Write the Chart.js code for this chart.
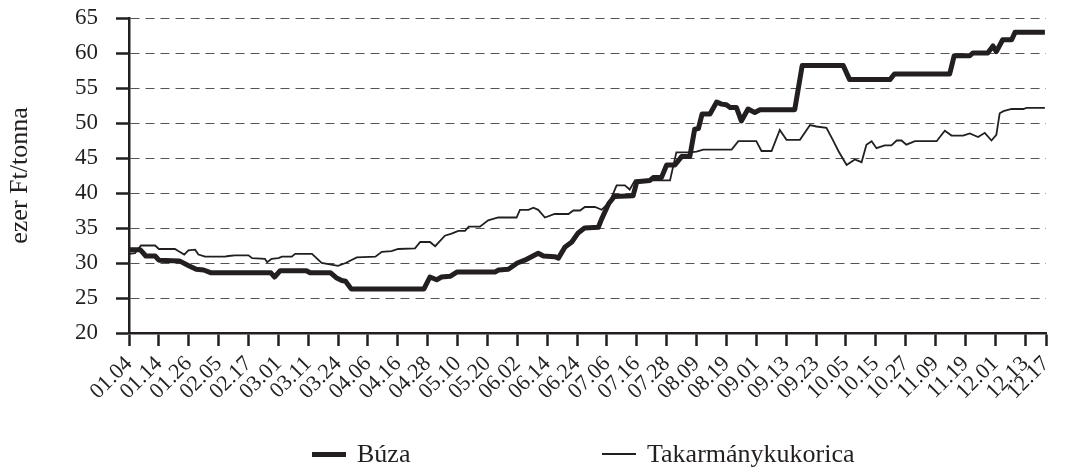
<!DOCTYPE html>
<html>
<head>
<meta charset="utf-8">
<script src="https://cdn.jsdelivr.net/npm/chart.js@4.4.1/dist/chart.umd.min.js"></script>
<style>
    html, body { margin: 0; padding: 0; background: #fff; }
    #wrap { position: relative; width: 1065px; height: 471px; }
    #legend { position: absolute; left: 0; top: 439px; width: 1065px; height: 30px;
              font-family: "Liberation Serif", "Times New Roman", serif; font-size: 26px; color: #231f20; }
    .item { position: absolute; top: 0; height: 30px; display: flex; align-items: center; }
    .swatch { width: 34px; margin-right: 11px; }
</style>
</head>
<body>
<div id="wrap">
    <canvas id="chart" width="1065" height="471"></canvas>
    <div id="legend"></div>
</div>
<script>
//-----TENGELY (x = kereskedési nap sorszáma)
const tickPos = [0, 8, 16, 24, 32, 40, 48, 56, 64, 72, 80, 88, 96, 104, 112, 120, 128, 136, 144, 152,
    160, 168, 176, 184, 192, 200, 208, 216, 224, 232, 240, 245.6]
const tickLabels = ['01.04', '01.14', '01.26', '02.05', '02.17', '03.01', '03.11', '03.24', '04.06', '04.16',
    '04.28', '05.10', '05.20', '06.02', '06.14', '06.24', '07.06', '07.16', '07.28', '08.09', '08.19',
    '09.01', '09.13', '09.23', '10.05', '10.15', '10.27', '11.09', '11.19', '12.01', '12.13', '12.17']

//-----BÚZA
const buzaDay = [0, 3, 4.5, 7, 8, 13.5, 16, 18, 20, 22, 38, 39, 40.5, 47.5, 48.5, 54, 55.5, 57, 58, 59.5,
    79, 80.6, 82.4, 83.7, 86, 87.8, 98, 99, 101.6, 104, 106, 109.6, 111, 114, 115, 116.8, 118.6, 120.3,
    122, 125.7, 126.6, 128.5, 130, 135, 136, 139.5, 140.4, 142.6, 144, 146.2, 148, 150.2, 151.5, 152.5,
    153.5, 155.6, 157.4, 158.7, 160, 161, 162.7, 164, 165.8, 167.6, 169, 178.3, 180.3, 191.3, 193,
    203.8, 205, 219.8, 221, 225.2, 226, 230, 231.4, 232.3, 234, 236.4, 237.3, 245.3]
const buzaVal = [31.9, 31.9, 31.0, 31.0, 30.4, 30.3, 29.6, 29.1, 29.0, 28.6, 28.6, 28.0, 28.9, 28.9, 28.6,
    28.6, 27.9, 27.5, 27.4, 26.3, 26.3, 28.0, 27.6, 28.0, 28.1, 28.7, 28.7, 29.0, 29.1, 30.0, 30.4, 31.4,
    31.0, 30.9, 30.7, 32.3, 33.0, 34.3, 35.0, 35.1, 36.3, 38.5, 39.5, 39.6, 41.6, 41.8, 42.2, 42.2, 44.0,
    44.0, 45.2, 45.2, 49.1, 49.2, 51.3, 51.3, 53.0, 52.7, 52.6, 52.2, 52.2, 50.3, 52.0, 51.5, 51.9, 51.9,
    58.2, 58.2, 56.2, 56.2, 57.0, 57.0, 59.6, 59.6, 60.0, 60.0, 61.0, 60.2, 61.9, 61.9, 62.95, 62.95]

//-----TAKARMÁNYKUKORICA
const kukDay = [0, 1.6, 3.2, 7, 8, 12.3, 13.2, 14.8, 15.9, 17.7, 18.6, 20.4, 25.7, 26.6, 28.4, 32, 33, 36.4,
    37, 38.2, 40, 41, 43.6, 44.5, 49, 51.6, 56, 58, 61, 66, 67.7, 70.3, 72.1, 76.6, 78, 80.6, 82, 84.6,
    86.4, 88.2, 90, 91, 94, 96.2, 98.9, 103.8, 104.7, 107, 108.3, 109.6, 111.4, 114, 117.7, 119, 120.8,
    122.1, 124.8, 126.6, 128.8, 130.6, 132.8, 134.1, 135.5, 144.9, 146.6, 150.2, 152, 153.8, 161.4, 163.2,
    168, 169.4, 172.1, 174.3, 176.1, 179.7, 182.4, 184.1, 186.8, 188.5, 190, 192.2, 194.4, 196.2, 197.5,
    198.9, 200.2, 202.4, 204.2, 205.6, 206.9, 208.2, 210.5, 216.3, 218.5, 220.3, 223.4, 225.2, 227.4,
    229.2, 231, 232.3, 233.2, 234.2, 236.4, 239.5, 240.4, 245.3]
const kukVal = [31.3, 31.4, 32.5, 32.5, 32.0, 32.0, 31.7, 31.2, 31.8, 31.9, 31.2, 30.9, 30.9, 31.0, 31.1,
    31.1, 30.7, 30.6, 30.1, 30.6, 30.7, 30.9, 30.9, 31.3, 31.3, 30.0, 29.6, 30.0, 30.8, 30.9, 31.6, 31.7,
    32.0, 32.1, 33.0, 33.0, 32.4, 33.9, 34.2, 34.6, 34.6, 35.2, 35.2, 36.1, 36.5, 36.5, 37.6, 37.6, 37.9,
    37.6, 36.5, 37.0, 37.0, 37.5, 37.5, 38.0, 38.0, 37.6, 38.8, 41.1, 41.1, 40.5, 41.8, 41.8, 45.8, 45.8,
    45.9, 46.2, 46.2, 47.4, 47.4, 46.0, 46.0, 49.0, 47.6, 47.6, 49.7, 49.5, 49.3, 47.6, 46.0, 44.0, 44.8,
    44.4, 46.9, 47.4, 46.4, 46.8, 46.8, 47.5, 47.5, 46.9, 47.4, 47.4, 48.9, 48.2, 48.2, 48.5, 48.0, 48.6,
    47.5, 48.3, 51.4, 51.7, 52.0, 52.0, 52.15, 52.15]

const ink = '#231f20'
const serif = '"Liberation Serif", "Times New Roman", serif'
const legendLeft = [312, 602]

const pontok = (days, vals) => days.map((d, i) => ({ x: d, y: vals[i] }))

const data = {
    datasets: [{
        label: 'Búza',
        data: pontok(buzaDay, buzaVal),
        borderColor: ink,
        borderWidth: 5,
        borderJoinStyle: 'round',
        pointRadius: 0,
        tension: 0
    }, {
        label: 'Takarmánykukorica',
        data: pontok(kukDay, kukVal),
        borderColor: ink,
        borderWidth: 1.8,
        pointRadius: 0,
        tension: 0
    }]
}

const config = {
    type: 'line',
    data: data,
    options: {
        responsive: false,
        animation: false,
        layout: { padding: { top: 18, right: 19, left: 0, bottom: 0 } },
        plugins: { legend: { display: false }, tooltip: { enabled: false } },
        scales: {
            x: {
                type: 'linear',
                min: 0,
                max: tickPos[tickPos.length - 1],
                afterBuildTicks: axis => { axis.ticks = tickPos.map(v => ({ value: v })) },
                afterFit: axis => { axis.height = 138; axis.paddingRight = 0 },
                ticks: {
                    autoSkip: false,
                    maxRotation: 45,
                    minRotation: 45,
                    padding: 5,
                    color: ink,
                    font: { family: serif, size: 22 },
                    callback: (v, i) => tickLabels[i]
                },
                grid: { drawOnChartArea: false, tickLength: 13, tickWidth: 2.5, tickColor: ink },
                border: { color: ink, width: 2.5 }
            },
            y: {
                min: 20,
                max: 65,
                afterFit: axis => { axis.width = 129; axis.paddingTop = 0 },
                ticks: { stepSize: 5, padding: 18, color: ink, font: { family: serif, size: 23 } },
                grid: { color: '#555', lineWidth: 1, tickLength: 13, tickWidth: 2.5, tickColor: ink, tickBorderDash: [] },
                border: { color: ink, width: 2.5, dash: [9, 6] },
                title: {
                    display: true,
                    text: 'ezer Ft/tonna',
                    color: ink,
                    font: { family: serif, size: 26 },
                    padding: { top: 5, bottom: 0 }
                }
            }
        }
    }
}

const chart = new Chart(document.getElementById('chart'), config)

//Jelmagyarázat
const legendNode = document.getElementById('legend')
chart.data.datasets.forEach((ds, i) => {
    const item = document.createElement('div')
    item.className = 'item'
    item.style.left = legendLeft[i] + 'px'
    const swatch = document.createElement('span')
    swatch.className = 'swatch'
    swatch.style.height = ds.borderWidth + 'px'
    swatch.style.background = ds.borderColor
    const text = document.createElement('span')
    text.textContent = ds.label
    item.appendChild(swatch)
    item.appendChild(text)
    legendNode.appendChild(item)
})
</script>
</body>
</html>
